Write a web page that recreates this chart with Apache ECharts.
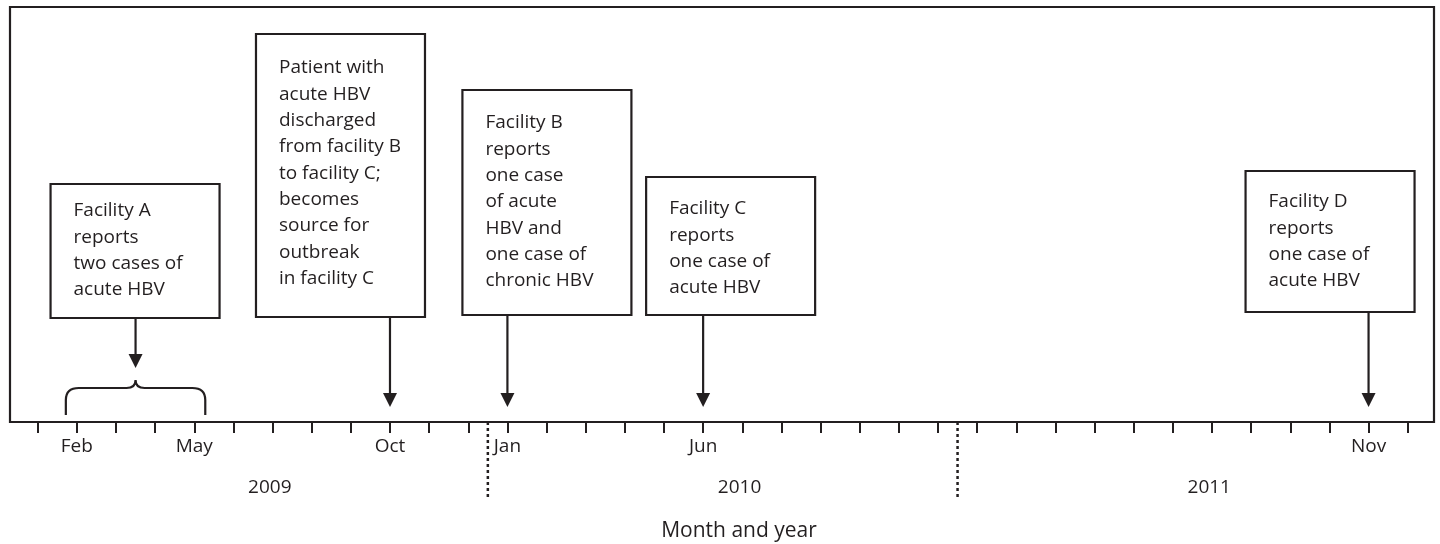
<!DOCTYPE html>
<html>
<head>
<meta charset="utf-8">
<script src="https://cdn.jsdelivr.net/npm/echarts@6/dist/echarts.min.js"></script>
<style>
  html, body { margin: 0; padding: 0; background: #fff; }
  #main { width: 1440px; height: 544px; }
</style>
</head>
<body>
<div id="main"></div>
<script>
// months counted from Jan 2009 = 0
var labelMonths = [1, 4, 9, 12, 17, 34];
var labelNames = ['Feb', 'May', 'Oct', 'Jan', 'Jun', 'Nov'];
var years = ['2009', '2010', '2011'];
var braceRange = [1, 4];
var eventMonths = [2.5, 9, 12, 17, 34];
var eventTexts = [
  ['Facility A', 'reports', 'two cases of', 'acute HBV'],
  ['Patient with', 'acute HBV', 'discharged', 'from facility B', 'to facility C;', 'becomes', 'source for', 'outbreak', 'in facility C'],
  ['Facility B', 'reports', 'one case', 'of acute', 'HBV and', 'one case of', 'chronic HBV'],
  ['Facility C', 'reports', 'one case of', 'acute HBV'],
  ['Facility D', 'reports', 'one case of', 'acute HBV']
];

// layout (pixels)
var boxLayout = [
  { dx: -85, top: 184, bottom: 318, text: 211, tip: 368 },
  { dx: -134, top: 34, bottom: 317, text: 68, tip: 407 },
  { dx: -45, top: 90, bottom: 315, text: 123, tip: 407 },
  { dx: -57, top: 177, bottom: 315, text: 209, tip: 407 },
  { dx: -123, top: 171, bottom: 312, text: 202, tip: 407 }
];
var INK = '#231f20';
var FONT = '19px "Open Sans"';
var BOX_W = 169;
var LINE_H = 26.3;

var chart = echarts.init(document.getElementById('main'));

function renderEvent(params, api) {
  var i = params.dataIndex;
  var L = boxLayout[i];
  var x = api.coord([api.value(0), 0])[0];
  var left = x + L.dx;
  var children = [
    { type: 'rect', shape: { x: left, y: L.top, width: BOX_W, height: L.bottom - L.top },
      style: { fill: '#fff', stroke: INK, lineWidth: 2.2 } },
    { type: 'line', shape: { x1: x, y1: L.bottom, x2: x, y2: L.tip - 12 },
      style: { stroke: INK, lineWidth: 2.2 } },
    { type: 'polygon', shape: { points: [[x - 7, L.tip - 14], [x + 7, L.tip - 14], [x, L.tip]] },
      style: { fill: INK } }
  ];
  eventTexts[i].forEach(function (line, k) {
    children.push({ type: 'text', style: { text: line, x: left + 23, y: L.text + k * LINE_H,
      font: FONT, fill: INK, verticalAlign: 'middle' } });
  });
  return { type: 'group', children: children };
}

function renderBrace(params, api) {
  var x1 = api.coord([api.value(0), 0])[0] - 11;
  var x2 = api.coord([api.value(1), 0])[0] + 11;
  var xc = (x1 + x2) / 2;
  var d = 'M' + x1 + ' 415 L' + x1 + ' 400 Q' + x1 + ' 388 ' + (x1 + 13) + ' 388 L' + (xc - 9) + ' 388'
    + ' Q' + xc + ' 388 ' + xc + ' 380 Q' + xc + ' 388 ' + (xc + 9) + ' 388 L' + (x2 - 13) + ' 388'
    + ' Q' + x2 + ' 388 ' + x2 + ' 400 L' + x2 + ' 415';
  return { type: 'path', shape: { pathData: d }, style: { fill: null, stroke: INK, lineWidth: 2.2 } };
}

function renderYear(params, api) {
  var i = params.dataIndex;
  var x = api.coord([12 * i + 5.93, 0])[0];
  var children = [
    { type: 'text', style: { text: years[i], x: x, y: 488, font: FONT, fill: INK, align: 'center', verticalAlign: 'middle' } }
  ];
  if (i > 0) {
    var bx = api.coord([12 * i - 0.5, 0])[0];
    children.push({ type: 'line', shape: { x1: bx, y1: 422, x2: bx, y2: 497 },
      style: { stroke: INK, lineWidth: 2.5, lineDash: [3, 3] } });
  }
  return { type: 'group', children: children };
}

var option = {
  animation: false,
  grid: [
    { left: 10, right: 6, top: 7, bottom: 122, show: true, borderColor: INK, borderWidth: 2.2, backgroundColor: 'transparent' },
    { left: 37.7, right: 32.3, top: 7, bottom: 122 }
  ],
  xAxis: [
    { gridIndex: 0, type: 'value', show: false, min: 0, max: 1 },
    {
      gridIndex: 1, type: 'value', min: 0, max: 35, interval: 1,
      axisLine: { show: false },
      axisTick: { show: true, inside: false, length: 11, lineStyle: { color: INK, width: 2 } },
      splitLine: { show: false },
      axisLabel: {
        margin: 15, color: INK, fontSize: 19, fontFamily: 'Open Sans',
        formatter: function (v) {
          var k = labelMonths.indexOf(v);
          return k >= 0 ? labelNames[k] : '';
        }
      }
    }
  ],
  yAxis: [
    { gridIndex: 0, type: 'value', show: false, min: 0, max: 1 },
    { gridIndex: 1, type: 'value', show: false, min: 0, max: 1 }
  ],
  graphic: [
    { type: 'text', x: 739, y: 531, style: { text: 'Month and year', font: '21px "Open Sans"', fill: INK, align: 'center', verticalAlign: 'middle' } }
  ],
  series: [
    { type: 'custom', xAxisIndex: 1, yAxisIndex: 1, clip: false, renderItem: renderYear,
      data: years.map(function (y, i) { return [i, 0]; }) },
    { type: 'custom', xAxisIndex: 1, yAxisIndex: 1, clip: false, renderItem: renderBrace,
      data: [braceRange] },
    { type: 'custom', xAxisIndex: 1, yAxisIndex: 1, clip: false, renderItem: renderEvent,
      data: eventMonths.map(function (m, i) { return [m, i]; }) }
  ]
};
chart.setOption(option);
</script>
</body>
</html>
